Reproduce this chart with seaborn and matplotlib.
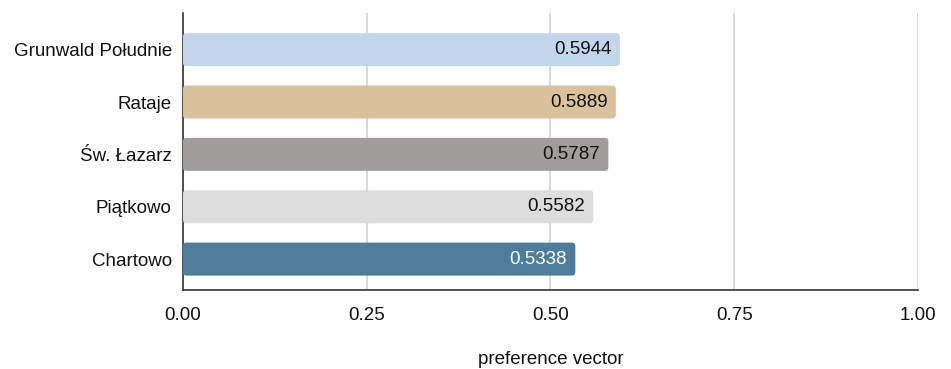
import matplotlib
matplotlib.use("Agg")
import matplotlib.pyplot as plt
from matplotlib.patches import FancyBboxPatch
import seaborn as sns
import pandas as pd

districts = ["Grunwald Południe", "Rataje", "Św. Łazarz", "Piątkowo", "Chartowo"]
scores = [0.5944, 0.5889, 0.5787, 0.5582, 0.5338]
bar_colors = ["#c3d7ec", "#d9c19c", "#a09e9d", "#dcdddc", "#4e7d9c"]
label_colors = ["#111111", "#111111", "#111111", "#111111", "#ffffff"]
x_ticks = [0.0, 0.25, 0.5, 0.75, 1.0]
x_tick_labels = ["0.00", "0.25", "0.50", "0.75", "1.00"]

df = pd.DataFrame({"district": districts, "score": scores})

sns.set_theme(style="white")
plt.rcParams["font.family"] = ["Liberation Sans", "DejaVu Sans"]

fig = plt.figure(figsize=(9.51, 3.69), dpi=100)
ax = fig.add_axes([0.1924, 0.2141, 0.7729, 0.7507])

sns.barplot(data=df, x="score", y="district", hue="district",
            palette=bar_colors, legend=False, width=0.63,
            saturation=1, ax=ax, zorder=3)

ax.set_xlim(0, 1.0)
ax.set_ylim(4.59, -0.70)

# swap the plain rectangles for ones with softly rounded corners
bbox = ax.get_window_extent()
px_x = 1.0 / bbox.width          # data units per pixel along x
px_y = 5.29 / bbox.height        # data units per pixel along y
for patch in list(ax.patches):
    x0, y0 = patch.get_x(), patch.get_y()
    w, h = patch.get_width(), patch.get_height()
    rounded = FancyBboxPatch((x0, y0), w, h,
                             boxstyle=f"round,pad=0,rounding_size={3.5 * px_x}",
                             mutation_aspect=px_y / px_x,
                             facecolor=patch.get_facecolor(), edgecolor="none",
                             zorder=3)
    patch.remove()
    ax.add_patch(rounded)

for i, (val, tc) in enumerate(zip(scores, label_colors)):
    ax.annotate(f"{val:.4f}", xy=(val, i), xytext=(-6, 0),
                textcoords="offset points", ha="right", va="center",
                fontsize=13.5, color=tc, zorder=4)

ax.set_xticks(x_ticks)
ax.set_xticklabels(x_tick_labels)
ax.grid(axis="x", color="#d8d8d8", linewidth=1.5, zorder=0)
ax.grid(axis="y", visible=False)

for side in ("top", "right"):
    ax.spines[side].set_visible(False)
for side in ("left", "bottom"):
    ax.spines[side].set_color("#333333")
    ax.spines[side].set_linewidth(1.2)

ax.tick_params(axis="y", length=0, pad=8, labelsize=13.5, labelcolor="#111111")
ax.tick_params(axis="x", length=0, pad=12, labelsize=13.5, labelcolor="#111111")
ax.set_ylabel("")
ax.set_xlabel("preference vector", fontsize=13.5, color="#111111", labelpad=20)

fig.savefig("out.png", dpi=100)
